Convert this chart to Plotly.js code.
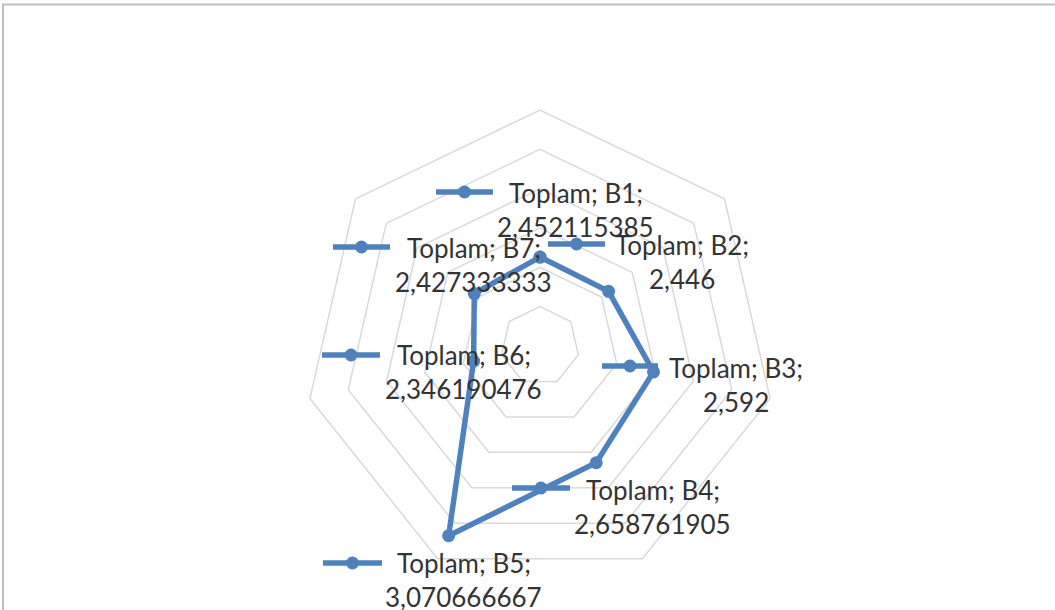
<!DOCTYPE html>
<html>
<head>
<meta charset="utf-8">
<script src="https://cdn.plot.ly/plotly-3.0.1.min.js"></script>
<style>html,body{margin:0;padding:0;background:#fff;}#chart{width:1055px;height:610px;}</style>
</head>
<body>
<div id="chart"></div>
<script>
// ---- data ----
const seriesName = "Toplam";
const categories = ["B1", "B2", "B3", "B4", "B5", "B6", "B7"];
const values = [2.452115385, 2.446, 2.592, 2.658761905, 3.070666667, 2.346190476, 2.427333333];
const radialTicks = [2.2, 2.4, 2.6, 2.8, 3.0, 3.2];

// ---- layout helpers (pixel positions of data labels, layout only) ----
const W = 1055, H = 610;
const px = x => x / W;
const py = y => 1 - y / H;
// label block: [textCenterX, line1Y, keyX1, keyX2, keyY]
const labelPos = [
  [575.5, 193, 436, 493, 192],
  [681.5, 245, 548, 605, 244],
  [735.5, 368, 602, 658, 366],
  [652.5, 490, 512, 570, 488],
  [463.5, 563, 323, 382, 563],
  [463.5, 355, 322, 380, 355],
  [473.5, 248, 333, 390, 247]
];
const blue = "#4f81bd";
const textColor = "#333333";
const fontFam = "Lato, 'Open Sans', sans-serif";
const fontSize = 26;

const theta = categories.concat([categories[0]]);
const r = values.concat([values[0]]);

const trace = {
  type: "scatterpolar",
  mode: "lines+markers",
  r: r,
  theta: theta,
  name: seriesName,
  line: {color: blue, width: 5.5},
  marker: {color: blue, size: 13},
  hoverinfo: "skip",
  showlegend: false
};

const annotations = [];
const shapes = [];
categories.forEach((c, i) => {
  const p = labelPos[i];
  annotations.push({
    xref: "paper", yref: "paper", x: px(p[0]), y: py(p[1]),
    xanchor: "center", yanchor: "middle", showarrow: false,
    text: seriesName + "; " + c + ";",
    font: {family: fontFam, size: fontSize, color: textColor}
  });
  annotations.push({
    xref: "paper", yref: "paper", x: px(p[0]), y: py(p[1] + 34),
    xanchor: "center", yanchor: "middle", showarrow: false,
    text: String(values[i]).replace(".", ","),
    font: {family: fontFam, size: fontSize, color: textColor}
  });
  shapes.push({
    type: "line", xref: "paper", yref: "paper", layer: "above",
    x0: px(p[2]), x1: px(p[3]), y0: py(p[4]), y1: py(p[4]),
    line: {color: blue, width: 5.5}
  });
  const mx = (p[2] + p[3]) / 2;
  shapes.push({
    type: "circle", xref: "paper", yref: "paper", layer: "above",
    x0: px(mx - 6.5), x1: px(mx + 6.5), y0: py(p[4] + 6.5), y1: py(p[4] - 6.5),
    fillcolor: blue, line: {color: blue, width: 0}
  });
});
// chart area border
shapes.push({
  type: "rect", xref: "paper", yref: "paper", layer: "below",
  x0: px(3), x1: px(1060), y0: py(4.5), y1: py(620),
  line: {color: "#bfbfbf", width: 2}, fillcolor: "rgba(0,0,0,0)"
});

const cx = 540, cy = 346, R = 236;
const layout = {
  width: W, height: H,
  margin: {l: 0, r: 0, t: 0, b: 0},
  paper_bgcolor: "#ffffff",
  plot_bgcolor: "#ffffff",
  showlegend: false,
  polar: {
    domain: {x: [px(cx - R), px(cx + R)], y: [py(cy + R), py(cy - R)]},
    bgcolor: "rgba(0,0,0,0)",
    gridshape: "linear",
    radialaxis: {
      range: [2, 3.2],
      tickvals: radialTicks,
      showticklabels: false,
      ticks: "",
      showline: false,
      gridcolor: "#d9d9d9",
      gridwidth: 1.5
    },
    angularaxis: {
      categoryorder: "array",
      categoryarray: categories,
      direction: "clockwise",
      rotation: 90,
      showticklabels: false,
      ticks: "",
      showgrid: false,
      showline: true,
      linecolor: "#d9d9d9",
      linewidth: 1.5
    }
  },
  annotations: annotations,
  shapes: shapes
};

Plotly.newPlot("chart", [trace], layout, {displayModeBar: false, staticPlot: true});
</script>
</body>
</html>
